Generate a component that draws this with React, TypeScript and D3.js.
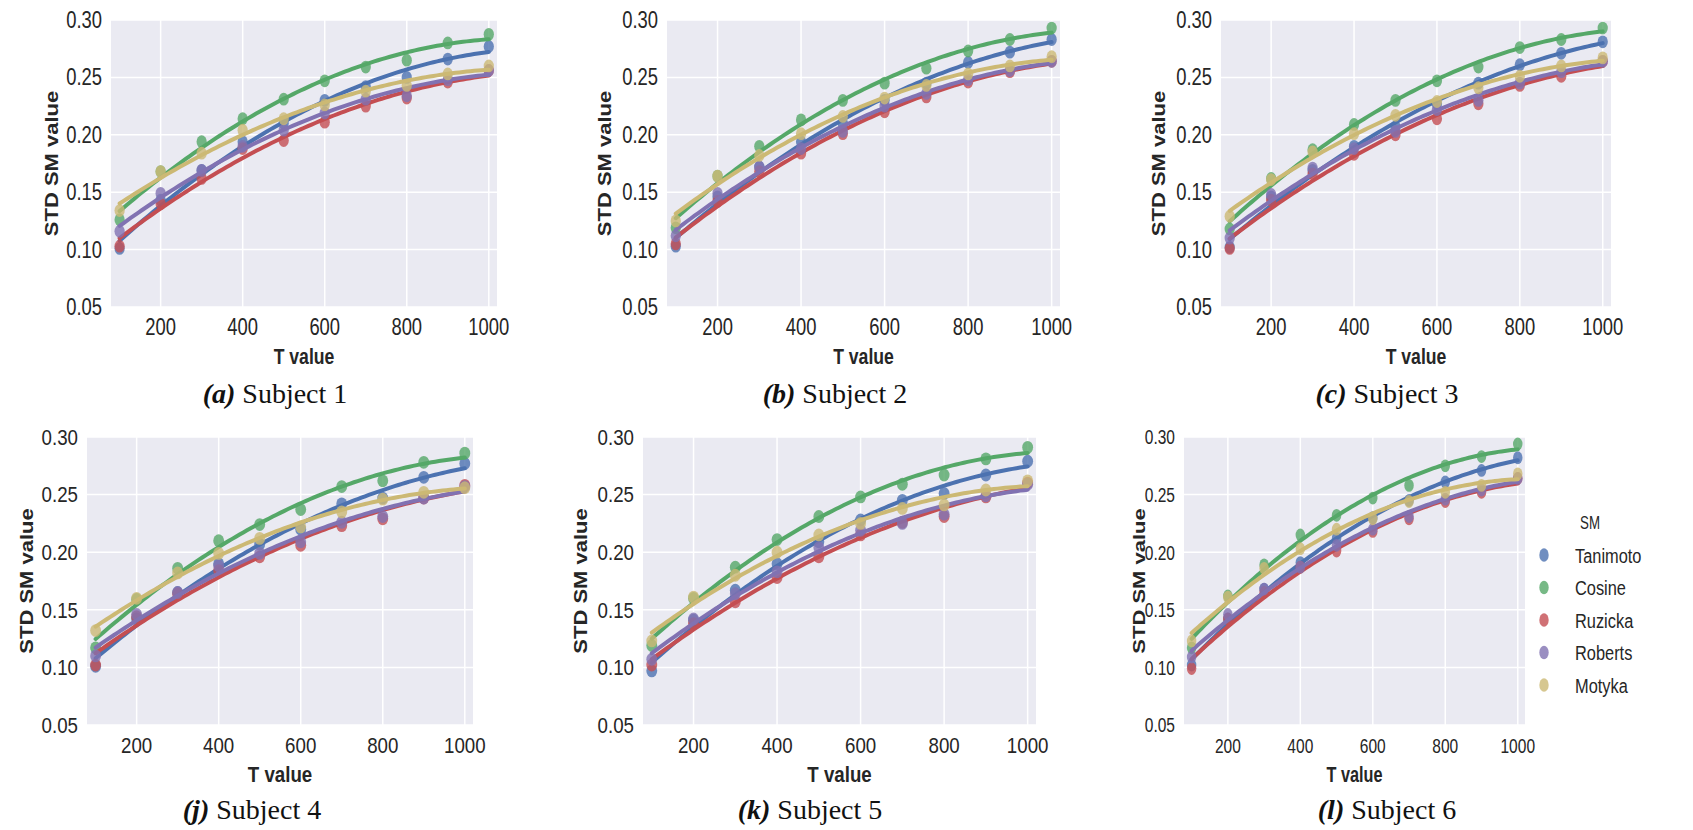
import React from "react";
import * as d3 from "d3";

// ---------- data ----------
const T_VALUES = [100, 200, 300, 400, 500, 600, 700, 800, 900, 1000];
const SERIES_NAMES = ["Tanimoto", "Cosine", "Ruzicka", "Roberts", "Motyka"];
const SERIES_COLORS = ["#4C72B0", "#55A868", "#C44E52", "#8172B2", "#CCB974"];
const X_TICKS = [200, 400, 600, 800, 1000];
const Y_TICKS = [0.05, 0.1, 0.15, 0.2, 0.25, 0.3];
const Y_TICK_LABELS = ["0.05", "0.10", "0.15", "0.20", "0.25", "0.30"];

// Subject 1
const s1Tanimoto = [0.101, 0.143, 0.169, 0.194, 0.21, 0.23, 0.242, 0.25, 0.266, 0.277];
const s1Cosine = [0.126, 0.168, 0.194, 0.214, 0.231, 0.247, 0.259, 0.265, 0.28, 0.2875];
const s1Ruzicka = [0.103, 0.14, 0.162, 0.188, 0.195, 0.211, 0.225, 0.232, 0.246, 0.256];
const s1Roberts = [0.116, 0.149, 0.169, 0.19, 0.204, 0.219, 0.231, 0.234, 0.248, 0.256];
const s1Motyka = [0.134, 0.168, 0.184, 0.204, 0.214, 0.226, 0.238, 0.243, 0.253, 0.26];

// Subject 2
const s2Tanimoto = [0.103, 0.146, 0.172, 0.194, 0.21, 0.23, 0.245, 0.263, 0.272, 0.283];
const s2Cosine = [0.119, 0.164, 0.19, 0.213, 0.23, 0.245, 0.258, 0.273, 0.283, 0.293];
const s2Ruzicka = [0.105, 0.142, 0.168, 0.184, 0.201, 0.22, 0.233, 0.246, 0.255, 0.264];
const s2Roberts = [0.112, 0.149, 0.172, 0.188, 0.203, 0.225, 0.236, 0.248, 0.256, 0.264];
const s2Motyka = [0.125, 0.164, 0.182, 0.201, 0.216, 0.232, 0.243, 0.253, 0.26, 0.268];

// Subject 3
const s3Tanimoto = [0.102, 0.146, 0.169, 0.19, 0.207, 0.227, 0.245, 0.261, 0.271, 0.281];
const s3Cosine = [0.118, 0.162, 0.187, 0.209, 0.23, 0.247, 0.259, 0.276, 0.283, 0.293];
const s3Ruzicka = [0.101, 0.143, 0.166, 0.183, 0.2, 0.214, 0.227, 0.243, 0.251, 0.264];
const s3Roberts = [0.11, 0.148, 0.171, 0.188, 0.203, 0.222, 0.23, 0.245, 0.255, 0.264];
const s3Motyka = [0.129, 0.161, 0.185, 0.201, 0.217, 0.229, 0.241, 0.251, 0.26, 0.267];

// Subject 4
const s4Tanimoto = [0.101, 0.142, 0.165, 0.19, 0.207, 0.22, 0.242, 0.247, 0.265, 0.277];
const s4Cosine = [0.117, 0.159, 0.186, 0.21, 0.224, 0.237, 0.257, 0.262, 0.278, 0.286];
const s4Ruzicka = [0.102, 0.144, 0.164, 0.184, 0.196, 0.206, 0.223, 0.229, 0.247, 0.258];
const s4Roberts = [0.11, 0.146, 0.165, 0.188, 0.199, 0.209, 0.226, 0.231, 0.247, 0.257];
const s4Motyka = [0.132, 0.16, 0.182, 0.199, 0.212, 0.222, 0.235, 0.246, 0.252, 0.256];

// Subject 5
const s5Tanimoto = [0.097, 0.141, 0.167, 0.19, 0.209, 0.228, 0.245, 0.251, 0.267, 0.279];
const s5Cosine = [0.119, 0.16, 0.187, 0.211, 0.231, 0.248, 0.259, 0.267, 0.281, 0.291];
const s5Ruzicka = [0.102, 0.138, 0.157, 0.178, 0.196, 0.215, 0.226, 0.231, 0.248, 0.26];
const s5Roberts = [0.107, 0.142, 0.164, 0.183, 0.204, 0.219, 0.225, 0.233, 0.249, 0.259];
const s5Motyka = [0.123, 0.161, 0.18, 0.2, 0.215, 0.225, 0.238, 0.241, 0.254, 0.262];

// Subject 6
const s6Tanimoto = [0.102, 0.142, 0.168, 0.191, 0.212, 0.23, 0.245, 0.261, 0.271, 0.282];
const s6Cosine = [0.117, 0.162, 0.189, 0.215, 0.232, 0.247, 0.258, 0.275, 0.283, 0.294];
const s6Ruzicka = [0.099, 0.142, 0.165, 0.187, 0.201, 0.218, 0.229, 0.244, 0.252, 0.264];
const s6Roberts = [0.109, 0.146, 0.168, 0.187, 0.206, 0.22, 0.231, 0.246, 0.254, 0.264];
const s6Motyka = [0.123, 0.161, 0.186, 0.203, 0.22, 0.229, 0.244, 0.252, 0.258, 0.268];

// ---------- layout ----------
const X_DOMAIN: [number, number] = [79, 1020];
const Y_DOMAIN: [number, number] = [0.05, 0.3];

type Panel = {
  tag: string;
  subject: string;
  series: number[][];
  left: number;
  right: number;
  top: number;
  bottom: number;
  sx: number;
  tickFont: number;
  yLabelX: number;
  captionX: number;
  captionY: number;
};

const PANELS: Panel[] = [
  { tag: "(a)", subject: "Subject 1", series: [s1Tanimoto, s1Cosine, s1Ruzicka, s1Roberts, s1Motyka],
    left: 111, right: 497, top: 20, bottom: 307, sx: 0.8, tickFont: 23, yLabelX: 50, captionX: 275, captionY: 403 },
  { tag: "(b)", subject: "Subject 2", series: [s2Tanimoto, s2Cosine, s2Ruzicka, s2Roberts, s2Motyka],
    left: 667, right: 1060, top: 20, bottom: 307, sx: 0.8, tickFont: 23, yLabelX: 603, captionX: 835, captionY: 403 },
  { tag: "(c)", subject: "Subject 3", series: [s3Tanimoto, s3Cosine, s3Ruzicka, s3Roberts, s3Motyka],
    left: 1221, right: 1611, top: 20, bottom: 307, sx: 0.8, tickFont: 23, yLabelX: 1157, captionX: 1387, captionY: 403 },
  { tag: "(j)", subject: "Subject 4", series: [s4Tanimoto, s4Cosine, s4Ruzicka, s4Roberts, s4Motyka],
    left: 87, right: 473, top: 437, bottom: 725, sx: 0.85, tickFont: 22, yLabelX: 25, captionX: 252, captionY: 819 },
  { tag: "(k)", subject: "Subject 5", series: [s5Tanimoto, s5Cosine, s5Ruzicka, s5Roberts, s5Motyka],
    left: 643, right: 1036, top: 437, bottom: 725, sx: 0.85, tickFont: 22, yLabelX: 579, captionX: 810, captionY: 819 },
  { tag: "(l)", subject: "Subject 6", series: [s6Tanimoto, s6Cosine, s6Ruzicka, s6Roberts, s6Motyka],
    left: 1184, right: 1525, top: 437, bottom: 725, sx: 0.74, tickFont: 21, yLabelX: 1137, captionX: 1387, captionY: 819 },
];

// quadratic least-squares fit (as seaborn regplot order=2)
function fitQuad(xs: number[], ys: number[]) {
  const u = xs.map((x) => x / 1000);
  let s0 = 0, s1 = 0, s2 = 0, s3 = 0, s4 = 0, t0 = 0, t1 = 0, t2 = 0;
  u.forEach((x, i) => {
    const y = ys[i];
    s0 += 1; s1 += x; s2 += x * x; s3 += x * x * x; s4 += x * x * x * x;
    t0 += y; t1 += x * y; t2 += x * x * y;
  });
  const det3 = (m: number[][]) =>
    m[0][0] * (m[1][1] * m[2][2] - m[1][2] * m[2][1]) -
    m[0][1] * (m[1][0] * m[2][2] - m[1][2] * m[2][0]) +
    m[0][2] * (m[1][0] * m[2][1] - m[1][1] * m[2][0]);
  const A = [[s0, s1, s2], [s1, s2, s3], [s2, s3, s4]];
  const B = [t0, t1, t2];
  const D = det3(A);
  const coef = [0, 1, 2].map((k) => det3(A.map((row, r) => row.map((v, c) => (c === k ? B[r] : v)))) / D);
  return (x: number) => { const z = x / 1000; return coef[0] + coef[1] * z + coef[2] * z * z; };
}

const SANS = "'Liberation Sans', Arial, sans-serif";
const SERIF = "'Liberation Serif', 'DejaVu Serif', serif";

function PanelView({ p }: { p: Panel }) {
  const x = d3.scaleLinear().domain(X_DOMAIN).range([p.left, p.right]);
  const y = d3.scaleLinear().domain(Y_DOMAIN).range([p.bottom, p.top]);
  const xs = d3.range(100, 1000.01, 9);
  const midY = (p.top + p.bottom) / 2;
  const midX = (p.left + p.right) / 2;
  return (
    <g>
      <rect x={p.left} y={p.top} width={p.right - p.left} height={p.bottom - p.top} fill="#EAEAF2" />
      {X_TICKS.map((t) => (
        <line key={"gx" + t} x1={x(t)} x2={x(t)} y1={p.top} y2={p.bottom} stroke="#fff" strokeWidth={1.5} />
      ))}
      {Y_TICKS.map((t) => (
        <line key={"gy" + t} x1={p.left} x2={p.right} y1={y(t)} y2={y(t)} stroke="#fff" strokeWidth={1.5} />
      ))}
      {p.series.map((vals, si) => {
        const f = fitQuad(T_VALUES, vals);
        const line = d3.line<number>().x((d) => x(d)).y((d) => y(f(d))).curve(d3.curveLinear);
        return (
          <g key={si}>
            {vals.map((v, i) => (
              <ellipse key={i} cx={x(T_VALUES[i])} cy={y(v)} rx={6.4 * p.sx} ry={6.4}
                fill={SERIES_COLORS[si]} fillOpacity={0.8} />
            ))}
            <path d={line(xs) || ""} fill="none" stroke={SERIES_COLORS[si]} strokeWidth={4} strokeLinecap="round" />
          </g>
        );
      })}
      {Y_TICKS.map((t, i) => (
        <text key={"ty" + t} transform={`translate(${p.left - 9},${y(t) + p.tickFont * 0.35}) scale(${p.sx},1)`}
          textAnchor="end" fontFamily={SANS} fontSize={p.tickFont} fill="#262626">{Y_TICK_LABELS[i]}</text>
      ))}
      {X_TICKS.map((t) => (
        <text key={"tx" + t} transform={`translate(${x(t)},${p.bottom + 28}) scale(${p.sx},1)`}
          textAnchor="middle" fontFamily={SANS} fontSize={p.tickFont} fill="#262626">{t}</text>
      ))}
      <text transform={`translate(${midX},${p.bottom + 57}) scale(${p.sx},1)`} textAnchor="middle"
        fontFamily={SANS} fontWeight="bold" fontSize={22} fill="#262626">T value</text>
      <text transform={`translate(${p.yLabelX + 8},${midY}) scale(${p.sx},1) rotate(-90)`} textAnchor="middle"
        fontFamily={SANS} fontWeight="bold" fontSize={22} fill="#262626">STD SM value</text>
      <text x={p.captionX} y={p.captionY} textAnchor="middle" fontFamily={SERIF} fontSize={28} fill="#111">
        <tspan fontWeight="bold" fontStyle="italic">{p.tag}</tspan>
        <tspan>{" " + p.subject}</tspan>
      </text>
    </g>
  );
}

function Legend() {
  const sx = 0.74;
  return (
    <g>
      <text transform={`translate(1590,529) scale(${sx},1)`} textAnchor="middle" fontFamily={SANS} fontSize={18} fill="#262626">SM</text>
      {SERIES_NAMES.map((n, i) => {
        const cy = 555 + i * 32.5;
        return (
          <g key={n}>
            <ellipse cx={1544} cy={cy} rx={4.7} ry={6.7} fill={SERIES_COLORS[i]} fillOpacity={0.8} />
            <text transform={`translate(1575,${cy + 7.5}) scale(0.78,1)`} fontFamily={SANS} fontSize={21} fill="#262626">{n}</text>
          </g>
        );
      })}
    </g>
  );
}

export default function App() {
  return (
    <svg width={1693} height={830} style={{ position: "absolute", left: 0, top: 0, background: "#fff" }}>
      {PANELS.map((p) => <PanelView key={p.tag} p={p} />)}
      <Legend />
    </svg>
  );
}
